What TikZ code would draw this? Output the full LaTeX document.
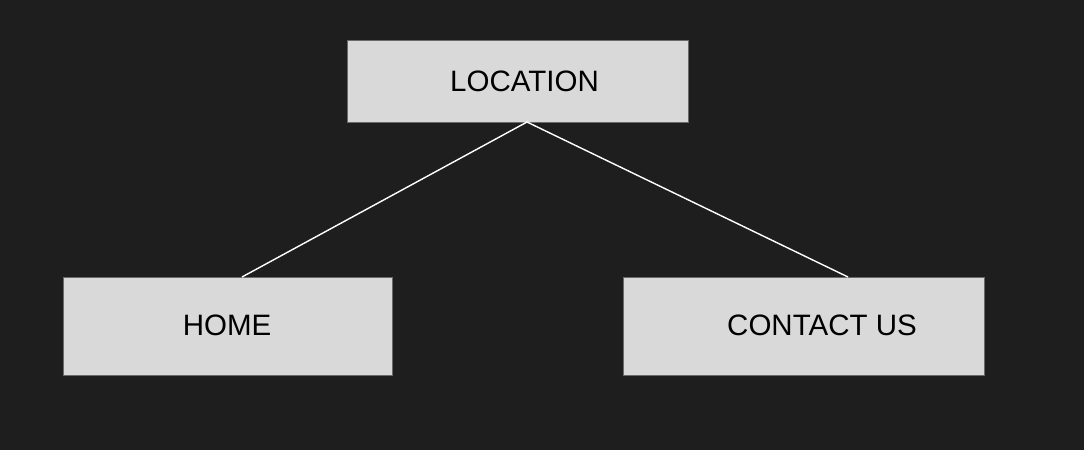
\documentclass[tikz,border=0pt]{standalone}
\usepackage{fontspec}
\setmainfont{Liberation Sans}
\definecolor{bg}{HTML}{1E1E1E}
\definecolor{boxfill}{HTML}{D9D9D9}
\definecolor{boxedge}{HTML}{6A6A6A}
\begin{document}
\begin{tikzpicture}[x=1pt,y=-1pt,
  pagebox/.style={draw=boxedge,line width=0.8pt,fill=boxfill,inner sep=0pt},
  lbl/.style={inner sep=0pt,text=black,font=\fontsize{29.5}{31}\selectfont},
  link/.style={draw=white,line width=1.4pt}]
\fill[bg] (0,0) rectangle (1084,450);
\useasboundingbox (0,0) rectangle (1084,450);
\node[pagebox,minimum width=341pt,minimum height=82pt] (loc) at (517.5,81) {};
\node[pagebox,minimum width=329pt,minimum height=98pt] (home) at (227.5,326) {};
\node[pagebox,minimum width=361pt,minimum height=98pt] (contact) at (803.5,326) {};
\node[lbl,anchor=base] (loct) at (524.5,91.5) {LOCATION};
\node[lbl,anchor=base] (homet) at (227,335.5) {HOME};
\node[lbl,anchor=base] (contactt) at (822,335.5) {CONTACT US};
\coordinate (ls) at (527,122);
\coordinate (ht) at (242,277);
\coordinate (ct) at (848,277);
\draw[link] (ls) -- (ht);
\draw[link] (ls) -- (ct);
\end{tikzpicture}
\end{document}
